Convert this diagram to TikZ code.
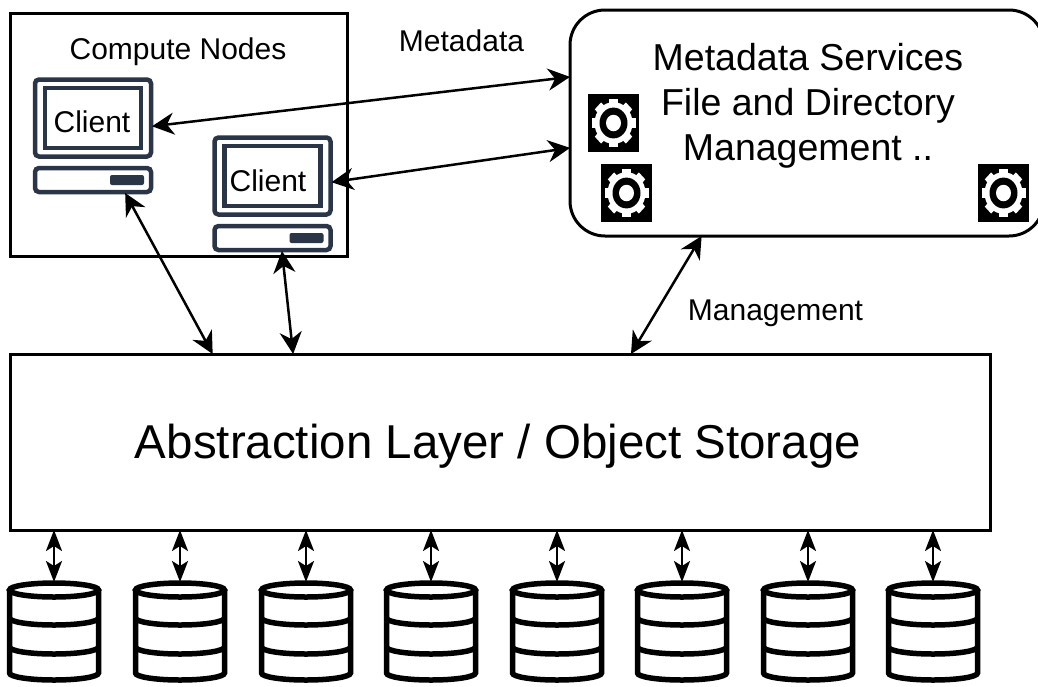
\documentclass[tikz,border=0pt]{standalone}
\usepackage{fontspec}
\setmainfont{Liberation Sans}
\usetikzlibrary{arrows.meta}
\definecolor{pcblue}{HTML}{2A3648}
\tikzset{
  box/.style={draw,line width=3pt,inner sep=0pt,outer sep=0pt},
  lbl/.style={inner sep=0pt,font=\fontsize{30}{36}\selectfont},
  pcpart/.style={draw=pcblue,line width=4.5pt,rounded corners=4pt,inner sep=0pt,outer sep=1pt},
  slot/.style={fill=pcblue,rounded corners=2pt,minimum width=34pt,minimum height=10pt,inner sep=0pt},
  gearbox/.style={fill=black,minimum width=51pt,minimum height=58pt,inner sep=0pt},
  disk/.style={minimum width=89pt,minimum height=100pt,inner sep=0pt,outer sep=0pt},
  link/.style={line width=2.5pt,{Stealth[length=22pt,width=22pt,inset=7pt]}-{Stealth[length=22pt,width=22pt,inset=7pt]}},
  shortlink/.style={line width=2.5pt,{Stealth[length=21pt,width=16pt,inset=5pt]}-{Stealth[length=21pt,width=16pt,inset=5pt]}}
}
\begin{document}
\begin{tikzpicture}[x=1pt,y=-1pt]
  \useasboundingbox (0,0) rectangle (1038,686);

  \node (nodes) [box,minimum width=337pt,minimum height=243pt] at (178.5,134.5) {};
  \node (title) [lbl] at (178,52) {Compute Nodes};

  % monitor and base of each client
  \foreach \n/\x/\y/\t/\d in {1/93/118/92/4,2/272.5/176/268/5}{
    \node (client\n) [pcpart,minimum width=116pt,minimum height=77pt] at (\x,\y) {};
    \node (screen\n) [pcpart,rounded corners=0pt,minimum width=96pt,minimum height=60pt] at (\x,\y) {};
    \node (name\n) [lbl] at (\t,\y+\d) {Client};
    \node (base\n) [pcpart,minimum width=116pt,minimum height=24pt] at (\x,\y+62) {};
    \node (slot\n) [slot] at (\x+34,\y+62) {};
  }

  \node (meta) [box,rounded corners=35pt,minimum width=474pt,minimum height=226pt] at (807,123) {};
  \node (metatext) [inner sep=0pt,align=center,font=\fontsize{37.5}{45}\selectfont] at (808,106)
    {Metadata Services\\File and Directory\\Management ..};

  \foreach \n/\x/\y in {1/613.5/123,2/626.5/193,3/1003.5/193}{
    \node (gear\n) [gearbox] at (\x,\y) {};
    \begin{scope}[shift={(gear\n.center)},yscale=1.1]
      \fill[white] (0,0) circle (19pt);
      \foreach \a in {0,45,90,135}
        \fill[white,rotate=\a] (-4.5,-22) rectangle (4.5,22);
      \fill[black] (0,0) circle (14pt);
      \fill[white] (0,0) circle (7.5pt);
    \end{scope}
  }

  \node (layer) [box,minimum width=980pt,minimum height=176pt] at (500.5,442) {};
  \node (layertext) [inner sep=0pt,font=\fontsize{47.5}{57}\selectfont] at (498,446) {Abstraction Layer / Object Storage};

  \node (mdlabel) [lbl] at (461.5,41) {Metadata};
  \node (mglabel) [lbl] at (775.5,313) {Management};

  \draw[link] (client1.-8.5) -- (meta.169.3);
  \draw[link] (client2.-6.6) -- (meta.186.5);
  \draw[link] (base1.-22) -- (layer.163.1);
  \draw[link] (base2.-54) -- (layer.157);
  \draw[link] (meta.227.4) -- (layer.34);

  % disks below the layer
  \foreach \n/\x in {1/54,2/180,3/306,4/431,5/557,6/682,7/808,8/933}{
    \node (db\n) [disk] at (\x,632) {};
    \draw[line width=5.5pt,fill=white] (db\n.center) ++(-44.5,-42) -- ++(0,83)
      arc[start angle=180,end angle=0,x radius=44.5,y radius=7] -- ++(0,-83);
    \draw[line width=5.5pt] (db\n.center) ++(0,-42) ellipse[x radius=44.5,y radius=7];
    \foreach \d in {-14,15}
      \draw[line width=5.5pt] (db\n.center) ++(-44.5,\d) arc[start angle=180,end angle=0,x radius=44.5,y radius=7];
    \draw[shortlink] (db\n.north) -- (db\n.north |- layer.south);
  }
\end{tikzpicture}
\end{document}
